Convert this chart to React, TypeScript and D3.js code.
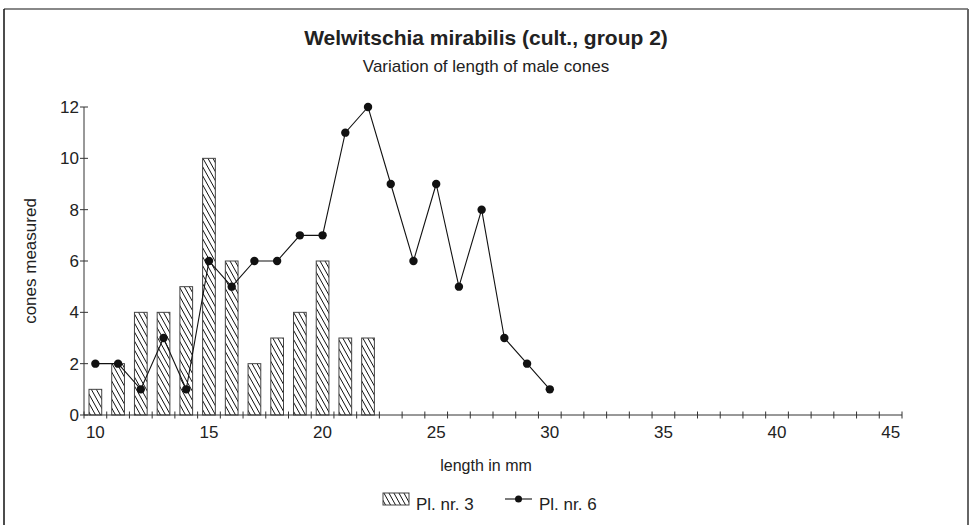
import React, { useEffect } from "react";
import * as d3 from "d3";

const categories: number[] = d3.range(10, 46);
const barCats: number[] = [10, 11, 12, 13, 14, 15, 16, 17, 18, 19, 20, 21, 22];
const barValues: number[] = [1, 2, 4, 4, 5, 10, 6, 2, 3, 4, 6, 3, 3];
const lineCats: number[] = [10, 11, 12, 13, 14, 15, 16, 17, 18, 19, 20, 21, 22, 23, 24, 25, 26, 27, 28, 29, 30];
const lineValues: number[] = [2, 2, 1, 3, 1, 6, 5, 6, 6, 7, 7, 11, 12, 9, 6, 9, 5, 8, 3, 2, 1];
const xTickLabels: number[] = [10, 15, 20, 25, 30, 35, 40, 45];
const yTicks: number[] = [0, 2, 4, 6, 8, 10, 12];
const title = "Welwitschia mirabilis (cult., group 2)";
const subtitle = "Variation of length of male cones";
const xTitle = "length in mm";
const yTitle = "cones measured";
const seriesNames = ["Pl. nr. 3", "Pl. nr. 6"];

const W = 971;
const H = 525;
const FONT = "'Liberation Sans', Arial, Helvetica, sans-serif";
const TXT = "#222";
const AX = "#333";

export default function App() {
  useEffect(() => {
    document.body.style.margin = "0";
  }, []);

  const x = d3
    .scaleBand<number>()
    .domain(categories)
    .range([84, 902])
    .padding(0);
  const y = d3.scaleLinear().domain([0, 12]).range([415, 107]);
  const bw = x.bandwidth();
  const barW = bw * 0.56;
  const cx = (c: number) => (x(c) as number) + bw / 2;

  const line = d3
    .line<number>()
    .x((_, i) => cx(lineCats[i]))
    .y((v) => y(v));

  const boundaries = categories.map((c) => x(c) as number).concat([x.range()[1]]);

  return (
    <svg
      width={W}
      height={H}
      style={{ display: "block", position: "absolute", left: 0, top: 0, background: "#fff" }}
      fontFamily={FONT}
    >
      <defs>
        <pattern id="hatch" patternUnits="userSpaceOnUse" width={5} height={9}>
          <rect width={5} height={9} fill="#fff" />
          <path d="M-1,-1.8 L6,10.8 M4,-1.8 L6,1.8 M-1,7.2 L1,10.8" stroke="#111" strokeWidth={1} />
        </pattern>
      </defs>
      <rect x={0} y={0} width={W} height={H} fill="#fff" />
      {/* frame */}
      <line x1={4} y1={9} x2={968} y2={9} stroke="#888" strokeWidth={2} />
      <line x1={4} y1={9} x2={4} y2={H + 5} stroke="#111" strokeWidth={1.5} />
      <line x1={968} y1={9} x2={968} y2={H + 5} stroke="#666" strokeWidth={2} />

      {/* titles */}
      <text x={486} y={45} textAnchor="middle" fontSize={21} fontWeight="bold" fill={TXT}>
        {title}
      </text>
      <text x={486} y={72} textAnchor="middle" fontSize={17} fill={TXT}>
        {subtitle}
      </text>

      {/* bars */}
      {barCats.map((c, i) => (
        <rect
          key={"b" + c}
          x={cx(c) - barW / 2}
          y={y(barValues[i])}
          width={barW}
          height={y(0) - y(barValues[i])}
          fill="url(#hatch)"
          stroke="#444"
          strokeWidth={1}
        />
      ))}

      {/* line */}
      <path d={line(lineValues) || ""} fill="none" stroke="#111" strokeWidth={1.1} />
      {lineValues.map((v, i) => (
        <circle key={"p" + i} cx={cx(lineCats[i])} cy={y(v)} r={4.2} fill="#111" />
      ))}

      {/* y axis */}
      <line x1={84} y1={y(12)} x2={84} y2={y(0)} stroke={AX} strokeWidth={1} />
      {yTicks.map((t) => (
        <g key={"yt" + t}>
          <line x1={80} x2={88} y1={y(t)} y2={y(t)} stroke={AX} strokeWidth={1} />
          <text x={79} y={y(t)} dy="0.36em" textAnchor="end" fontSize={17} fill={TXT}>
            {t}
          </text>
        </g>
      ))}

      {/* x axis */}
      <line x1={84} y1={y(0)} x2={x.range()[1]} y2={y(0)} stroke={AX} strokeWidth={1} />
      {boundaries.map((b, i) => (
        <line key={"xt" + i} x1={b} x2={b} y1={y(0) - 3.5} y2={y(0) + 3.5} stroke={AX} strokeWidth={1} />
      ))}
      {xTickLabels.map((t) => (
        <text key={"xl" + t} x={cx(t)} y={438} textAnchor="middle" fontSize={17} fill={TXT}>
          {t}
        </text>
      ))}

      {/* axis titles */}
      <text x={486} y={471} textAnchor="middle" fontSize={16} fill={TXT}>
        {xTitle}
      </text>
      <text
        transform={`translate(36, ${(y(0) + y(12)) / 2}) rotate(-90)`}
        textAnchor="middle"
        fontSize={17}
        fill={TXT}
      >
        {yTitle}
      </text>

      {/* legend */}
      <rect x={383} y={493} width={26} height={12} fill="url(#hatch)" stroke="#444" strokeWidth={1} />
      <text x={416} y={510} fontSize={17} fill={TXT}>
        {seriesNames[0]}
      </text>
      <line x1={505} x2={532} y1={499} y2={499} stroke="#111" strokeWidth={1.1} />
      <circle cx={518.5} cy={499} r={3.5} fill="#111" />
      <text x={539} y={510} fontSize={17} fill={TXT}>
        {seriesNames[1]}
      </text>
    </svg>
  );
}
